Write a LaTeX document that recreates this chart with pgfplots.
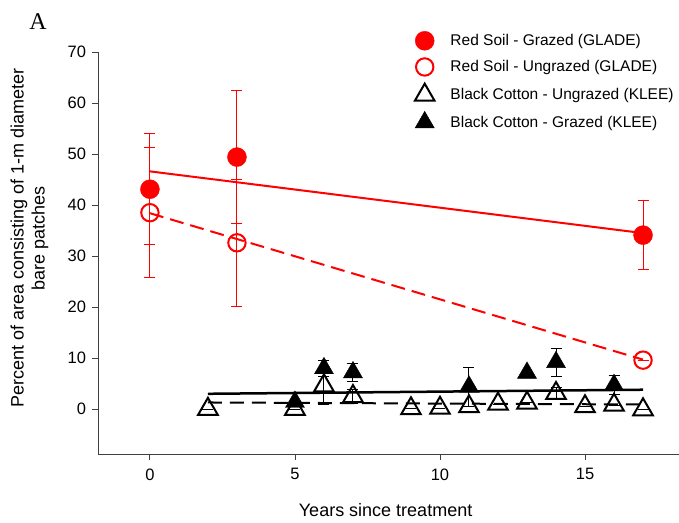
\documentclass[border=0pt]{standalone}
\usepackage{fontspec}
\setmainfont{Liberation Sans}
\newfontfamily\seriffont{Liberation Serif}
\usepackage{pgfplots}
\pgfplotsset{compat=1.18}
\begin{document}
\begin{tikzpicture}
\begin{axis}[
  scale only axis, width=581bp, height=402bp,
  xmin=-1.79, xmax=18.24, ymin=-8.8, ymax=70,
  axis x line=bottom, axis y line=left,
  axis line style={-, line width=0.9bp, black!75},
  xtick={0,5,10,15}, ytick={0,10,...,70},
  tick align=outside, major tick length=6bp,
  tick style={line width=0.9bp, black!75},
  /pgf/number format/assume math mode=true,
  ticklabel style={font=\fontsize{16.5bp}{19bp}\selectfont},
  xticklabel style={yshift=-5bp},
  yticklabel style={xshift=-2.5bp},
  xlabel={Years since treatment},
  xlabel style={font=\fontsize{18bp}{21bp}\selectfont, at={(axis description cs:0.495,0)}, anchor=center, yshift=-56bp},
  ylabel={Percent of area consisting of 1-m diameter\\bare patches},
  ylabel style={font=\fontsize{18bp}{21bp}\selectfont, align=center, at={(axis description cs:-0.118,0.537)}, anchor=center},
  clip=false,
  legend style={at={(axis description cs:0.540,1.057)}, anchor=north west, draw=none, fill=none,
    font=\fontsize{15.5bp}{18bp}\selectfont, row sep=8bp, column sep=14bp},
  legend cell align=left,
]
% regression lines
\addplot[red, line width=2bp, forget plot] coordinates {(0,46.6) (17,34.5)};
\addplot[red, line width=2bp, dash pattern=on 14bp off 7bp, forget plot] coordinates {(0,38.4) (17,9.7)};
\addplot[black, line width=2.5bp, forget plot] coordinates {(2,3.0) (17,3.8)};
\addplot[black, line width=2bp, dash pattern=on 14bp off 8bp, forget plot] coordinates {(2,1.3) (17,0.9)};

% Red Soil - Grazed
\addplot[only marks, red, mark=*, mark size=9.5bp,
  error bars/.cd, y dir=both, y explicit,
  error bar style={line width=1bp, red},
  error mark options={rotate=90, mark size=5.5bp, line width=1bp, red}]
  coordinates {(0,43.1) +- (0,10.9) (3,49.4) +- (0,13.0) (17,34.1) +- (0,6.8)};
\addlegendentry{Red Soil - Grazed (GLADE)}

% Red Soil - Ungrazed
\addplot[only marks, red, mark=o, mark size=8.7bp, mark options={line width=2bp, fill=none},
  error bars/.cd, y dir=both, y explicit,
  error bar style={line width=1bp, red},
  error mark options={rotate=90, mark size=5.5bp, line width=1bp, red}]
  coordinates {(0,38.5) +- (0,12.8) (3,32.6) +- (0,12.4) (17,9.6) +- (0,0)};
\addlegendentry{Red Soil - Ungrazed (GLADE)}

% Black Cotton - Ungrazed
\addplot[only marks, black, mark=triangle, mark size=11.3bp, mark options={line width=2bp, fill=none},
  error bars/.cd, y dir=both, y explicit,
  error bar style={line width=1bp, black},
  error mark options={rotate=90, mark size=5.5bp, line width=1bp, black}]
  coordinates {
  (2,0.0) +- (0,0) (5,0.0) +- (0,0) (6,4.6) +- (0,3.6) (7,2.5) +- (0,1.4)
  (9,0.1) +- (0,0) (10,0.2) +- (0,0) (11,0.5) +- (0,0) (12,1.0) +- (0,0)
  (13,1.2) +- (0,0) (14,3.1) +- (0,1.2) (15,0.5) +- (0,0) (16,0.8) +- (0,0)
  (17,-0.1) +- (0,0)};
\addlegendentry{Black Cotton - Ungrazed (KLEE)}

% Black Cotton - Grazed
\addplot[only marks, black, mark=triangle*, mark size=11bp,
  error bars/.cd, y dir=both, y explicit,
  error bar style={line width=1bp, black},
  error mark options={rotate=90, mark size=5.5bp, line width=1bp, black}]
  coordinates {
  (5,1.4) +- (0,0) (6,8.0) +- (0,1.6) (7,7.2) +- (0,1.7) (11,4.4) +- (0,3.8)
  (13,7.1) +- (0,0) (14,9.2) +- (0,2.75) (16,4.7) +- (0,1.8)};
\addlegendentry{Black Cotton - Grazed (KLEE)}

\node[font=\seriffont\fontsize{24bp}{28bp}\selectfont] at (axis description cs:-0.103,1.075) {A};
\end{axis}
\pgfresetboundingbox
\path[use as bounding box] (-98bp,-69bp) rectangle (581bp,454bp);
\end{tikzpicture}
\end{document}
